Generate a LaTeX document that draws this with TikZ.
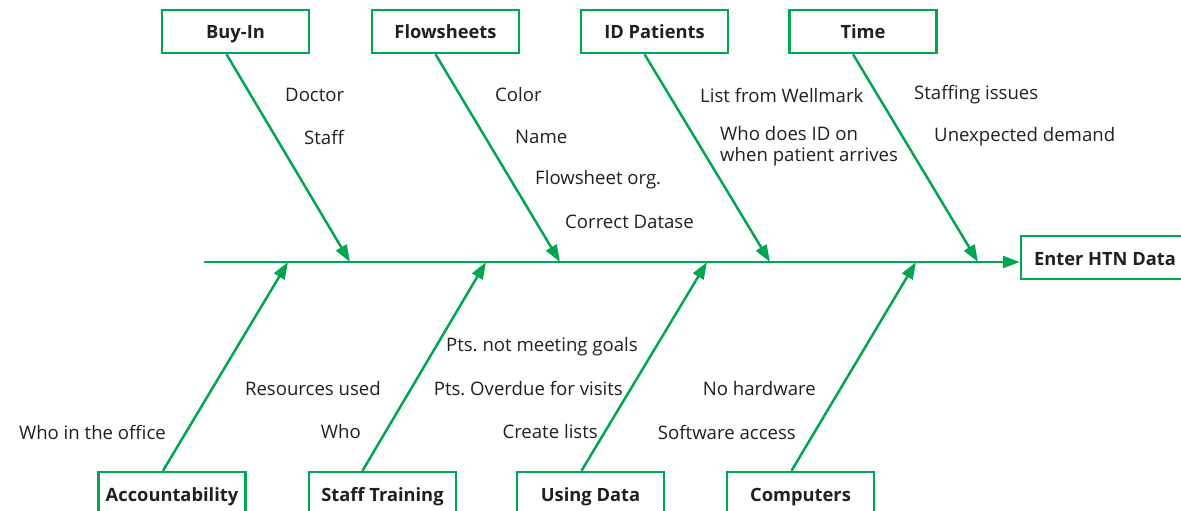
\documentclass[tikz,border=0pt]{standalone}
\usepackage{fontspec}
\setmainfont{Open Sans}
\frenchspacing
\usetikzlibrary{arrows.meta,calc}
\definecolor{fishgreen}{RGB}{0,166,81}
\definecolor{txt}{RGB}{35,31,32}
\tikzset{
  catbox/.style={draw=fishgreen,line width=2.5pt,minimum width=147pt,minimum height=43pt,inner sep=0pt,text height=15pt,text depth=0pt,font=\bfseries\fontsize{18.3}{21}\selectfont,text=txt},
  lbl/.style={font=\fontsize{18.6}{21}\selectfont,text=txt,inner sep=0pt},
  bone/.style={draw=fishgreen,line width=2.5pt,-{Triangle[length=17pt,width=12pt]}},
}
\begin{document}
\begin{tikzpicture}[x=1pt,y=-1pt]
\clip (0,0) rectangle (1181,511);
\fill[white] (0,0) rectangle (1181,511);
% top boxes
\node[catbox] (buyin) at (235.5,31.5) {Buy-In};
\node[catbox] (flow) at (445.5,31.5) {Flowsheets};
\node[catbox] (idp) at (654.5,31.5) {ID Patients};
\node[catbox] (time) at (863,31.5) {Time};
% bottom boxes
\node[catbox] (acc) at (172,493.5) {Accountability};
\node[catbox] (staff) at (382.5,493.5) {Staff Training};
\node[catbox] (using) at (590.5,493.5) {Using Data};
\node[catbox] (comp) at (800.5,493.5) {Computers};
% effect
\node[catbox,minimum width=168pt] (enter) at (1105,257.5) {Enter HTN Data};
% spine
\coordinate (tail) at (204,262);
\coordinate (b1) at (350,262);
\coordinate (b2) at (560,262);
\coordinate (b3) at (770,262);
\coordinate (b4) at (978,262);
\coordinate (a1) at (288,262);
\coordinate (a2) at (486,262);
\coordinate (a3) at (707,262);
\coordinate (a4) at (916,262);
\draw[bone] (tail) -- (enter.west |- tail);
\draw[bone] ($(buyin.south)+(-9,0)$) -- (b1);
\draw[bone] ($(flow.south)+(-10,0)$) -- (b2);
\draw[bone] ($(idp.south)+(-10,0)$) -- (b3);
\draw[bone] ($(time.south)+(-10,0)$) -- (b4);
\draw[bone] ($(acc.north)+(-9,0)$) -- (a1);
\draw[bone] ($(staff.north)+(-20,0)$) -- (a2);
\draw[bone] ($(using.north)+(-9,0)$) -- (a3);
\draw[bone] ($(comp.north)+(-9,0)$) -- (a4);
% top labels
\node[lbl,anchor=west] (l1) at (285,95) {Doctor};
\node[lbl,anchor=west] (l2) at (304,137) {Staff};
\node[lbl,anchor=west] (l3) at (495,95) {Color};
\node[lbl,anchor=west] (l4) at (515,137) {Name};
\node[lbl,anchor=west] (l5) at (535,180) {Flowsheet org.};
\node[lbl,anchor=west] (l6) at (565,222) {Correct Datase};
\node[lbl,anchor=west] (l7) at (700,95) {List from Wellmark};
\node[lbl,anchor=north west,align=left,font=\fontsize{18.6}{21}\selectfont] (l8) at (720,126) {Who does ID on\\when patient arrives};
\node[lbl,anchor=west] (l9) at (914,95) {Staffing issues};
\node[lbl,anchor=west] (l10) at (934,137) {Unexpected demand};
% bottom labels
\node[lbl,anchor=east] (m1) at (166,432) {Who in the office};
\node[lbl,anchor=east] (m2) at (381,389) {Resources used};
\node[lbl,anchor=east] (m3) at (361,432) {Who};
\node[lbl,anchor=east] (m4) at (638,347) {Pts. not meeting goals};
\node[lbl,anchor=east] (m5) at (623,389) {Pts. Overdue for visits};
\node[lbl,anchor=east] (m6) at (598,432) {Create lists};
\node[lbl,anchor=east] (m7) at (816,389) {No hardware};
\node[lbl,anchor=east] (m8) at (796,432) {Software access};
\end{tikzpicture}
\end{document}
